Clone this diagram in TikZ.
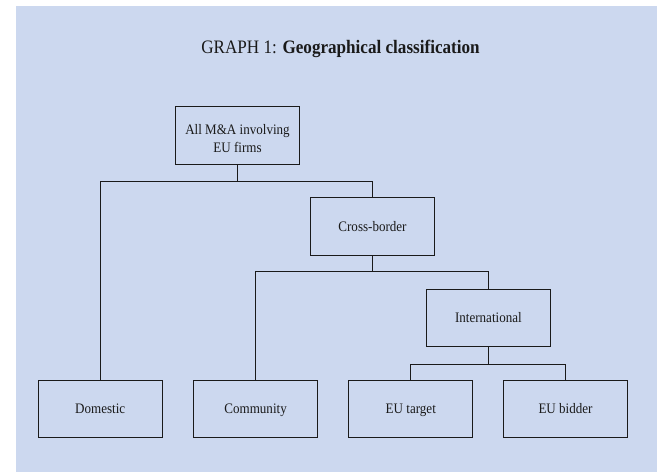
\documentclass[tikz,border=0pt]{standalone}
\usepackage{fontspec}
\setmainfont[FakeStretch=0.9]{Liberation Serif}
\definecolor{bgblue}{HTML}{CCD8EF}
\definecolor{ink}{HTML}{1A1A1A}
\begin{document}
\begin{tikzpicture}[x=1pt,y=-1pt,
  catbox/.style={draw=ink, line width=1pt, minimum width=124pt, minimum height=57.5pt,
    inner sep=0pt, align=center, text=ink, font=\fontsize{14.5}{18.6}\selectfont},
  onerow/.style={text height=9.6pt, text depth=0pt},
  link/.style={draw=ink, line width=1pt}]
\useasboundingbox (0,0) rectangle (660,472);
\fill[bgblue] (16,6) rectangle (657,472);
\node[text=ink, font=\fontsize{19}{22}\selectfont, text height=12.6pt, text depth=0pt, inner sep=0pt] (title) at (340.5,47)
  {GRAPH 1: \textbf{Geographical classification}};
\node[catbox] (root) at (237.5,135.5) {\rule{0pt}{16pt}All M\&A involving\\EU firms};
\node[catbox, onerow] (cross) at (372.5,226.7) {Cross-border};
\node[catbox, onerow] (intl) at (488.4,318) {International};
\node[catbox, onerow] (dom) at (100.2,408.8) {Domestic};
\node[catbox, onerow] (comm) at (255.6,408.8) {Community};
\node[catbox, onerow] (tgt) at (410.8,408.8) {EU target};
\node[catbox, onerow] (bid) at (565.5,408.8) {EU bidder};
\coordinate (bus1) at (0,181);
\coordinate (bus2) at (0,271.7);
\coordinate (bus3) at (0,364);
\draw[link] (root.south) -- (root.south |- bus1) -| (dom.north);
\draw[link] (root.south |- bus1) -| (cross.north);
\draw[link] (cross.south) -- (cross.south |- bus2) -| (comm.north);
\draw[link] (cross.south |- bus2) -| (intl.north);
\draw[link] (intl.south) -- (intl.south |- bus3) -| (tgt.north);
\draw[link] (intl.south |- bus3) -| (bid.north);
\end{tikzpicture}
\end{document}
